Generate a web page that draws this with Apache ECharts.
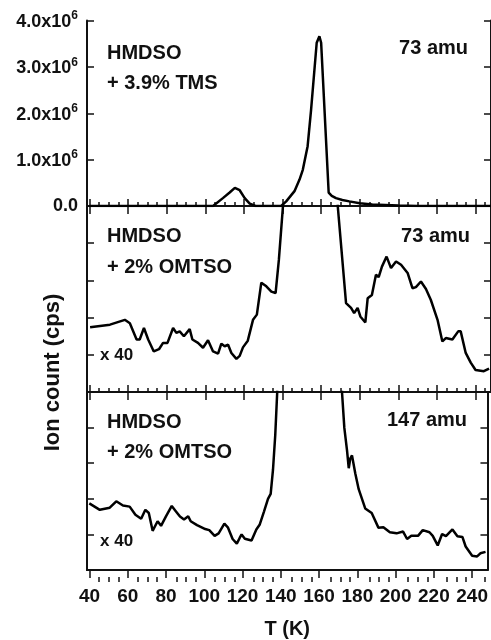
<!DOCTYPE html>
<html>
<head>
<meta charset="utf-8">
<title>Ion count vs T</title>
<script src="https://cdn.jsdelivr.net/npm/echarts@6/dist/echarts.min.js"></script>
<style>
	html, body { margin: 0; padding: 0; background: #fff; }
	#chart { width: 491px; height: 640px; }
</style>
</head>
<body>
<div id="chart"></div>
<script>
	// x axis: temperature (K)
	var xMin = 38.7, xMax = 248;
	var xMajorTicks = [40, 60, 80, 100, 120, 140, 160, 180, 200, 220, 240];
	var xMinorTicks = [45, 50, 55, 65, 70, 75, 85, 90, 95, 105, 110, 115, 125, 130, 135, 145, 150, 155,
		165, 170, 175, 185, 190, 195, 205, 210, 215, 225, 230, 235, 245];
	var yTickLabels1 = ['0.0', '1.0x10', '2.0x10', '3.0x10', '4.0x10'];

	// panel 1: HMDSO + 3.9% TMS, 73 amu (cps)
	var t1 = [40, 60, 80, 100, 104, 109.1, 112.6, 115.3, 117.8, 120.4, 123, 126, 130, 135, 139.3, 141.9,
		146.2, 148.8, 150.5, 153, 154.8, 157.7, 159.1, 160, 163.9, 165.5, 167.7, 171, 174.6, 180, 186.5, 200, 210, 248];
	var v1 = [0, 0, 0, 0, 0, 0.17e6, 0.29e6, 0.39e6, 0.34e6, 0.17e6, 0.05e6, 0, 0, 0, 0, 0.1e6,
		0.32e6, 0.57e6, 0.78e6, 1.29e6, 2.08e6, 3.52e6, 3.66e6, 3.52e6, 0.29e6, 0.22e6, 0.17e6, 0.13e6, 0.1e6, 0.06e6, 0.03e6, 0.01e6, 0, 0];

	// panel 2: HMDSO + 2% OMTSO, 73 amu (x 40, arb. units)
	var t2 = [40.3, 50.6, 58.3, 60.9, 64.4, 66, 68.2, 70.4, 73.3, 76, 78.1, 80.4, 83.3, 85, 86.7, 88.9, 91.9,
		93.3, 96.2, 98.8, 101.4, 104, 106.6, 108.3, 110, 111.8, 113.5, 116.1, 117.8, 119.5, 122, 124.7, 126.7,
		129, 131.6, 134.2, 136.4, 138.1, 140.2, 145, 150, 160, 165, 168.6, 172.9, 175.5, 177.1, 178.9, 180.3,
		182.9, 184.1, 186.3, 188.4, 189.8, 191.5, 193.9, 196.2, 198.8, 201.4, 204.8, 207.3, 209.1, 211.7,
		214.3, 216.8, 220.3, 222.8, 224.6, 228, 231, 232.3, 234.9, 237.5, 240, 244.3, 247];
	var v2 = [1.74, 1.81, 1.94, 1.85, 1.41, 1.41, 1.72, 1.41, 1.09, 1.15, 1.32, 1.32, 1.72, 1.59, 1.63, 1.5, 1.69,
		1.41, 1.32, 1.19, 1.39, 1.09, 1.03, 1.3, 1.23, 1.27, 1.05, 0.89, 0.97, 1.2, 1.38, 1.94, 2.08,
		2.94, 2.84, 2.7, 2.66, 3.55, 4.98, 20, 50, 140, 40, 5.0, 2.39, 2.26, 2.12, 2.26, 2.03,
		1.87, 2.52, 2.61, 3.15, 3.09, 3.37, 3.64, 3.33, 3.51, 3.42, 3.2, 2.79, 2.82, 2.97,
		2.77, 2.48, 1.94, 1.36, 1.45, 1.41, 1.63, 1.63, 1.05, 0.79, 0.59, 0.56, 0.63];

	// panel 3: HMDSO + 2% OMTSO, 147 amu (x 40, arb. units)
	var t3 = [39.9, 45.4, 50.6, 54, 57.5, 61, 64, 67, 69.2, 71, 73, 75.6, 77.4, 79.9, 83, 85, 87.3, 89.4, 91.6,
		92.9, 96.2, 100.5, 102.6, 105.4, 107.5, 110.5, 112.3, 114.8, 117, 118.5, 119.5, 121.2, 124.7, 127.2,
		129, 131.2, 133.3, 134.7, 135.9, 137.1, 138.1, 145, 155, 165, 172, 173.2, 174.6, 175.5, 176.3, 177.2,
		178.9, 180.7, 184.1, 187.5, 191, 193.6, 197, 200.5, 203.9, 206, 208.2, 211.7, 214.2, 217.7, 219.4,
		222, 224.3, 226.3, 229.7, 232.3, 234.9, 236.6, 240, 242.6, 244.3, 247];
	var v3 = [1.87, 1.69, 1.75, 1.93, 1.81, 1.78, 1.55, 1.44, 1.69, 1.6, 1.1, 1.37, 1.24, 1.5, 1.8, 1.66, 1.5, 1.42, 1.51,
		1.37, 1.26, 1.15, 1.12, 0.96, 1.03, 1.3, 1.2, 0.87, 0.74, 0.9, 1.0, 0.88, 0.83, 1.14,
		1.28, 1.64, 2.0, 2.14, 2.81, 3.8, 4.98, 30, 80, 30, 4.98, 3.99, 3.36, 2.86, 3.13, 3.22,
		2.72, 2.27, 1.73, 1.6, 1.19, 1.2, 1.06, 1.03, 1.08, 0.87, 0.96, 0.96, 1.12, 1.06, 0.96,
		0.69, 1.01, 0.95, 1.14, 0.95, 0.93, 0.66, 0.4, 0.38, 0.47, 0.51];

	var FONT = '"Liberation Sans", Arial, Helvetica, sans-serif';
	var INK = '#111';

	function zip(xs, ys) {
		return xs.map(function (x, i) { return [x, ys[i]]; });
	}

	var panels = [
		{ top: 20.5, height: 185.5, data: zip(t1, v1), yMax: 4e6, yInterval: 1e6 },
		{ top: 206, height: 186, data: zip(t2, v2), yMax: 5, yInterval: 1 },
		{ top: 392, height: 185, data: zip(t3, v3), yMax: 5, yInterval: 1 }
	];

	var grids = [], xAxes = [], yAxes = [], series = [];
	var axisLine = { show: true, lineStyle: { color: INK, width: 2 } };

	panels.forEach(function (p, i) {
		var last = i === panels.length - 1;
		grids.push({ left: 87, width: 405, top: p.top, height: p.height });
		// bottom axis, major ticks
		xAxes.push({
			type: 'value', gridIndex: i, position: 'bottom', min: xMin, max: xMax,
			axisLine: axisLine, splitLine: { show: false },
			axisTick: { show: true, inside: !last, length: last ? 8 : 7, customValues: xMajorTicks, lineStyle: { color: INK, width: 1.5 } },
			axisLabel: { show: last, customValues: xMajorTicks, margin: 17, color: INK, fontFamily: FONT, fontWeight: 'bold', fontSize: 19 },
			name: last ? 'T (K)' : '', nameLocation: 'middle', nameGap: 49,
			nameTextStyle: { color: INK, fontFamily: FONT, fontWeight: 'bold', fontSize: 20 }
		});
		// top axis, major ticks only
		xAxes.push({
			type: 'value', gridIndex: i, position: 'top', min: xMin, max: xMax,
			axisLine: axisLine, splitLine: { show: false },
			axisTick: { show: true, inside: true, length: 8, customValues: xMajorTicks, lineStyle: { color: INK, width: 1.5 } },
			axisLabel: { show: false }
		});
		yAxes.push({
			type: 'value', gridIndex: i, position: 'left', min: 0, max: p.yMax, interval: p.yInterval,
			axisLine: axisLine, splitLine: { show: false },
			axisTick: { show: true, inside: true, length: 7, lineStyle: { color: INK, width: 1.5 } },
			axisLabel: {
				show: i === 0, margin: 9, color: INK,
				formatter: function (v) {
					var k = Math.round(v / 1e6);
					return k === 0 ? '{a|' + yTickLabels1[0] + '}' : '{a|' + yTickLabels1[k] + '}{s|6}';
				},
				rich: {
					a: { fontFamily: FONT, fontWeight: 'bold', fontSize: 18, color: INK, verticalAlign: 'bottom' },
					s: { fontFamily: FONT, fontWeight: 'bold', fontSize: 12, color: INK, verticalAlign: 'bottom', padding: [0, 0, 9, 0] }
				}
			}
		});
		yAxes.push({
			type: 'value', gridIndex: i, position: 'right', min: 0, max: p.yMax, interval: p.yInterval,
			axisLine: axisLine, splitLine: { show: false },
			axisTick: { show: true, inside: true, length: 7, lineStyle: { color: INK, width: 1.5 } },
			axisLabel: { show: false }
		});
		series.push({
			type: 'line', xAxisIndex: 2 * i, yAxisIndex: 2 * i, data: p.data,
			showSymbol: false, clip: true, z: 3,
			lineStyle: { color: '#000', width: 2.5 }
		});
	});

	// overlay grids carrying the minor ticks of each bottom axis
	panels.forEach(function (p, i) {
		var last = i === panels.length - 1;
		var g = panels.length + i;
		grids.push({ left: 87, width: 405, top: p.top, height: p.height });
		xAxes.push({
			type: 'value', gridIndex: g, position: 'bottom', min: xMin, max: xMax,
			axisLine: { show: false }, splitLine: { show: false }, axisLabel: { show: false },
			axisTick: { show: true, inside: !last, length: last ? 5 : 4, customValues: xMinorTicks, lineStyle: { color: INK, width: 1.5 } }
		});
		yAxes.push({ type: 'value', gridIndex: g, show: false, min: 0, max: 1 });
	});

	function txt(x, y, text, size, align) {
		return {
			type: 'text', x: x, y: y, z: 10,
			style: { text: text, fill: INK, font: 'bold ' + size + 'px ' + FONT, align: align || 'left', verticalAlign: 'middle' }
		};
	}

	var graphics = [
		txt(107, 53.5, 'HMDSO', 20),
		txt(107, 83.5, '+ 3.9% TMS', 20),
		txt(468, 48.5, '73 amu', 20, 'right'),
		txt(107, 236.5, 'HMDSO', 20),
		txt(107, 267.5, '+ 2% OMTSO', 20),
		txt(470, 236.5, '73 amu', 20, 'right'),
		txt(100, 355, 'x 40', 17),
		txt(107, 422.5, 'HMDSO', 20),
		txt(107, 452.5, '+ 2% OMTSO', 20),
		txt(467, 420, '147 amu', 20, 'right'),
		txt(100, 541, 'x 40', 17),
		{
			type: 'text', x: 53, y: 372.5, rotation: Math.PI / 2, z: 10,
			style: { text: 'Ion count (cps)', fill: INK, font: 'bold 22px ' + FONT, align: 'center', verticalAlign: 'middle' }
		}
	];

	var chart = echarts.init(document.getElementById('chart'), null, { renderer: 'canvas' });
	chart.setOption({
		animation: false,
		backgroundColor: '#ffffff',
		grid: grids,
		xAxis: xAxes,
		yAxis: yAxes,
		series: series,
		graphic: graphics
	});
</script>
</body>
</html>
